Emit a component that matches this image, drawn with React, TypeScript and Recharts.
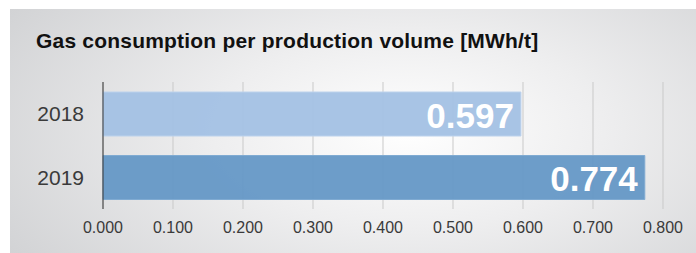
import { BarChart, Bar, XAxis, YAxis, CartesianGrid, Cell, LabelList } from "recharts";

// years shown on the category axis
const YEARS = ["2018", "2019"];
// gas consumption per production volume, MWh/t
const GAS_PER_TON = [0.597, 0.774];
const X_TICKS = [0, 0.1, 0.2, 0.3, 0.4, 0.5, 0.6, 0.7, 0.8];

const BAR_FILL = ["#a3c1e4", "#6598c6"];
const BAR_EDGE = ["#bcd2ec", "#80abd2"];

const FONT = "'Liberation Sans', Arial, Helvetica, sans-serif";

const rows = YEARS.map((year, i) => ({ year, value: GAS_PER_TON[i] }));

function ValueLabel(props: any) {
  const { x, y, width, height, value } = props;
  return (
    <text
      x={x + width - 7}
      y={y + height / 2 + 1}
      textAnchor="end"
      dominantBaseline="central"
      fill="#ffffff"
      fontSize={35}
      fontWeight="bold"
      fontFamily={FONT}
    >
      {Number(value).toFixed(3)}
    </text>
  );
}

export default function App() {
  return (
    <div style={{ position: "absolute", left: 0, top: 0, width: 696, height: 253, background: "#ffffff", overflow: "hidden" }}>
      <div
        style={{
          position: "absolute",
          left: 10,
          top: 9,
          width: 686,
          height: 244,
          background: "radial-gradient(ellipse 68% 95% at 58% 50%, #ffffff 0%, #eeeeef 42%, #d2d3d5 100%)",
        }}
      >
        <div
          style={{
            position: "absolute",
            left: 26,
            top: 20,
            fontFamily: FONT,
            fontWeight: "bold",
            fontSize: 21,
            letterSpacing: 0.2,
            color: "#111111",
            whiteSpace: "nowrap",
          }}
        >
          Gas consumption per production volume [MWh/t]
        </div>
        <div style={{ position: "absolute", left: 0, top: 0 }}>
          <BarChart
            width={686}
            height={244}
            data={rows}
            layout="vertical"
            margin={{ top: 73, right: 33, left: 0, bottom: 14 }}
          >
            <CartesianGrid horizontal={false} stroke="#c9c9c9" />
            <XAxis
              type="number"
              domain={[0, 0.8]}
              ticks={X_TICKS}
              tickFormatter={(v: number) => v.toFixed(3)}
              axisLine={false}
              tickLine={false}
              tickSize={0}
              tickMargin={13}
              height={30}
              tick={{ fill: "#3a3a3a", fontSize: 16, fontFamily: FONT }}
            />
            <YAxis
              type="category"
              dataKey="year"
              width={93}
              axisLine={{ stroke: "#333333", strokeWidth: 1 }}
              tickLine={false}
              tickSize={0}
              tickMargin={19}
              tick={{ fill: "#3a3a3a", fontSize: 21, fontFamily: FONT }}
            />
            <Bar dataKey="value" barSize={44} isAnimationActive={false} fillOpacity={0.95}>
              {rows.map((r, i) => (
                <Cell key={r.year} fill={BAR_FILL[i]} stroke={BAR_EDGE[i]} strokeWidth={1} />
              ))}
              <LabelList dataKey="value" content={ValueLabel} />
            </Bar>
          </BarChart>
        </div>
      </div>
    </div>
  );
}
